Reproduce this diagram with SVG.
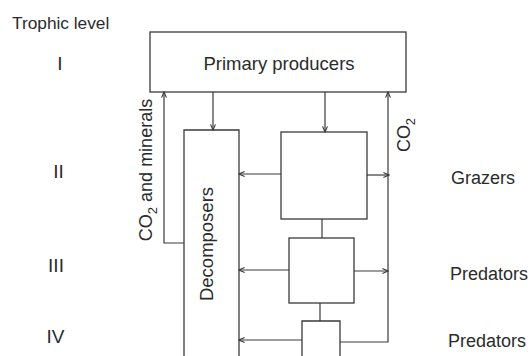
<svg xmlns="http://www.w3.org/2000/svg" width="532" height="356" viewBox="0 0 532 356">
<style>
text{font-family:"Liberation Sans",Arial,sans-serif;font-size:18px;fill:#2b2b2b}
.box{fill:none;stroke:#3a3a3a;stroke-width:1.3}
.ln{fill:none;stroke:#3a3a3a;stroke-width:1.2}
.arr{marker-end:url(#ah)}
</style>
<defs>
<marker id="ah" viewBox="0 0 10 10" refX="9" refY="5" markerWidth="7" markerHeight="7" markerUnits="userSpaceOnUse" orient="auto">
<path d="M1,1.5 L9,5 L1,8.5" fill="none" stroke="#3a3a3a" stroke-width="1.6"/>
</marker>
</defs>
<rect width="532" height="356" fill="#fff"/>
<g id="labels">
<text x="12" y="29" style="font-size:17.3px">Trophic level</text>
<text x="60" y="69.5" text-anchor="middle" style="font-size:19px">I</text>
<text x="58.5" y="178" text-anchor="middle" style="font-size:19px">II</text>
<text x="56" y="272" text-anchor="middle" style="font-size:19px">III</text>
<text x="55.5" y="343" text-anchor="middle" style="font-size:19px">IV</text>
</g>
<g id="primary">
<rect class="box" x="150" y="32" width="256" height="60"/>
<text x="279" y="70" text-anchor="middle" style="font-size:18.5px">Primary producers</text>
</g>
<g id="decomposers">
<path class="box" d="M184,360 V130 H239 V360"/>
<text transform="translate(213,244) rotate(-90)" text-anchor="middle" style="font-size:18.5px">Decomposers</text>
</g>
<g id="grazers">
<rect class="box" x="281" y="132" width="86" height="87"/>
<text x="451" y="184">Grazers</text>
</g>
<g id="predators3">
<rect class="box" x="289" y="238" width="65" height="65"/>
<text x="450" y="280">Predators</text>
</g>
<g id="predators4">
<path class="box" d="M302,360 V321 H340 V360"/>
<text x="448" y="347">Predators</text>
</g>
<g id="connectors">
<path class="ln arr" d="M184,243 H164 V92"/>
<path class="ln arr" d="M213,92 V130"/>
<path class="ln arr" d="M325,92 V132"/>
<path class="ln arr" d="M281,174 H239"/>
<path class="ln arr" d="M367,175 H389"/>
<path class="ln arr" d="M340,342 H388 V92"/>
<path class="ln" d="M322,219 V238"/>
<path class="ln arr" d="M289,270 H239"/>
<path class="ln arr" d="M354,271 H388"/>
<path class="ln" d="M320,303 V321"/>
<path class="ln arr" d="M302,340 H239"/>
<text transform="translate(152,170) rotate(-90)" text-anchor="middle">CO<tspan dy="5" style="font-size:13px">2</tspan><tspan dy="-5"> and minerals</tspan></text>
<text transform="translate(410,135) rotate(-90)" text-anchor="middle">CO<tspan dy="5" style="font-size:13px">2</tspan></text>
</g>
</svg>
